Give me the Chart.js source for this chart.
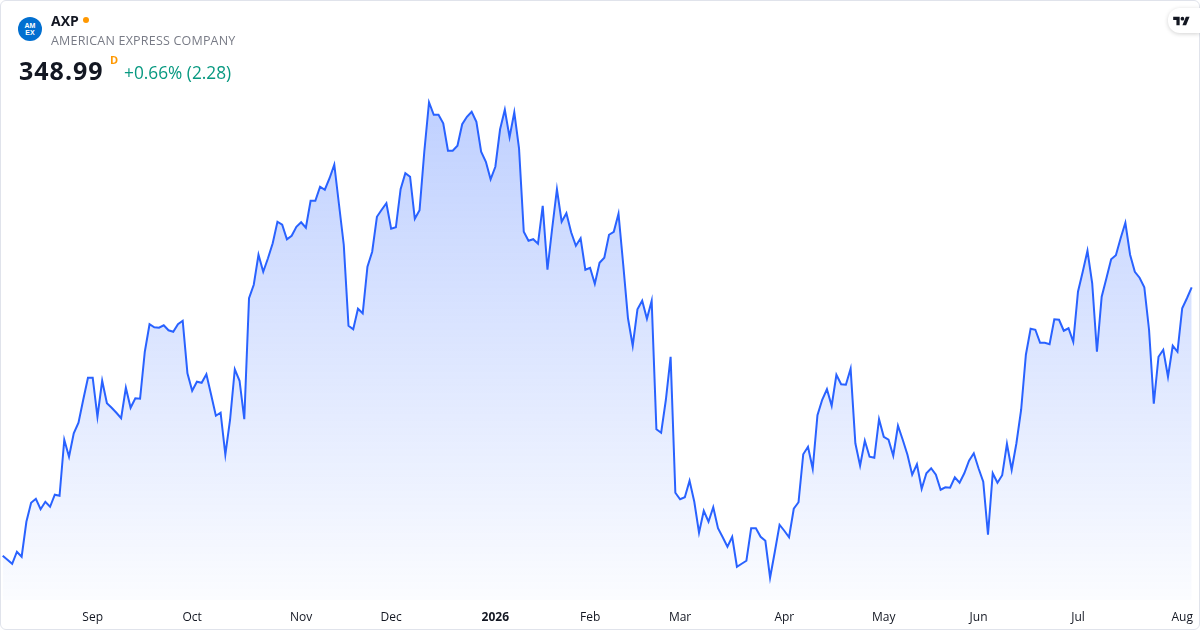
<!DOCTYPE html>
<html>
<head>
<meta charset="utf-8">
<script src="https://cdn.jsdelivr.net/npm/chart.js@4/dist/chart.umd.min.js"></script>
<style>
  html, body { margin: 0; padding: 0; background: #fff; }
  body { width: 1200px; height: 630px; position: relative; overflow: hidden; font-family: 'Open Sans', 'Noto Sans', sans-serif; }
  .card { position: absolute; left: 0; top: 0; width: 1198px; height: 628px; border: 1px solid #e0e3eb; border-radius: 6px; }
  #wrap { position: absolute; left: 0; top: 0; width: 1194px; height: 630px; }
  .logo { position: absolute; left: 18px; top: 17px; width: 24px; height: 24px; border-radius: 50%; background: #016fd0; color: #fff;
          font: bold 7px/7px 'Liberation Sans', sans-serif; text-align: center; }
  .logo span { display: block; }
  .sym { position: absolute; left: 51px; top: 11px; font-size: 14px; font-weight: 700; color: #131722; }
  .dot { position: absolute; left: 83px; top: 17px; width: 6px; height: 6px; border-radius: 50%; background: #ff9800; }
  .name { position: absolute; left: 51px; top: 32px; font-size: 12.5px; color: #787b86; letter-spacing: 0.2px; }
  .price { position: absolute; left: 19px; top: 53px; font-size: 25px; font-weight: 700; color: #131722; letter-spacing: 1px; }
  .d { position: absolute; left: 110px; top: 52px; font-size: 11px; font-weight: 700; color: #ff9800; }
  .chg { position: absolute; left: 124px; top: 61px; font-size: 17.3px; color: #089981; }
  .tv { position: absolute; right: 0; top: 8px; width: 32px; height: 25px; background: #fff; border-radius: 12px 0 0 12px;
        box-shadow: 0 1px 4px rgba(0,0,0,0.18); }
  .tv svg { position: absolute; left: 5px; top: 7px; }
</style>
</head>
<body>
<div class="card"></div>
<div id="wrap"><canvas id="chart" width="1194" height="630"></canvas></div>
<div class="logo"><span style="margin-top:5px">AM</span><span>EX</span></div>
<div class="sym">AXP</div>
<div class="dot"></div>
<div class="name">AMERICAN EXPRESS COMPANY</div>
<div class="price">348.99</div>
<div class="d">D</div>
<div class="chg">+0.66% (2.28)</div>
<div class="tv"><svg width="17" height="12" viewBox="0 0 36 26"><path fill="#131722" d="M14 22H7V11H0V4h14v18zM28 22h-8l7.5-18h8L28 22z"/><circle fill="#131722" cx="20" cy="8" r="4"/></svg></div>
<script>
// daily closes, Aug 2025 -> Aug 2026
const closes = [
  295.3, 294.5, 293.7, 296.1, 295.1, 302.1, 305.9, 306.7, 304.6, 306.1,
  305.1, 307.5, 307.3, 318.5, 315.1, 319.8, 321.9, 326.5, 330.9, 330.9,
  323.1, 330.3, 325.8, 324.9, 323.9, 322.8, 328.9, 324.9, 326.8, 326.7,
  336.1, 341.6, 341.0, 340.9, 341.4, 340.4, 340.1, 341.6, 342.3, 331.8,
  328.3, 330.1, 329.9, 331.6, 327.5, 323.3, 323.9, 315.5, 322.5, 332.6,
  330.3, 322.6, 346.8, 349.5, 355.5, 352.1, 354.8, 357.8, 362.1, 361.5,
  358.6, 359.3, 361.1, 362.0, 360.9, 366.3, 366.3, 369.1, 368.5, 370.8,
  373.5, 365.5, 357.5, 341.3, 340.6, 344.7, 343.8, 353.1, 356.1, 363.1,
  364.5, 365.8, 360.7, 361.0, 368.6, 371.8, 371.1, 362.7, 364.4, 376.1,
  386.0, 383.5, 383.5, 381.8, 376.3, 376.3, 377.3, 381.6, 383.1, 384.1,
  382.1, 376.1, 374.1, 370.6, 373.1, 380.6, 384.5, 379.0, 384.0, 376.8,
  360.1, 358.3, 358.6, 357.7, 365.3, 352.5, 360.8, 368.6, 362.1, 363.8,
  360.0, 357.3, 358.8, 352.5, 352.9, 349.7, 353.9, 354.9, 359.5, 360.1,
  363.7, 353.5, 342.8, 337.3, 344.6, 346.3, 342.7, 346.3, 320.6, 319.9,
  326.5, 335.1, 307.9, 306.6, 307.0, 310.3, 306.1, 299.9, 304.3, 302.1,
  305.0, 300.8, 299.0, 297.1, 299.1, 293.1, 293.7, 294.3, 300.8, 300.8,
  299.1, 298.3, 290.9, 296.1, 301.5, 300.3, 299.0, 304.7, 306.0, 315.6,
  317.1, 312.7, 323.4, 326.5, 328.6, 325.3, 331.5, 329.6, 329.5, 332.7,
  317.8, 313.3, 318.3, 315.1, 314.9, 322.6, 319.1, 318.5, 315.3, 321.3,
  318.5, 315.5, 311.5, 313.6, 308.7, 311.8, 312.8, 311.5, 308.5, 309.0,
  308.9, 311.0, 309.9, 311.8, 314.3, 315.8, 312.8, 310.1, 299.5, 311.8,
  309.9, 311.4, 317.7, 312.5, 317.8, 324.5, 335.5, 340.7, 340.5, 337.9,
  337.9, 337.6, 342.6, 342.5, 340.3, 340.8, 338.1, 348.1, 352.1, 356.3,
  349.8, 336.1, 347.1, 350.8, 354.6, 355.4, 358.8, 361.9, 355.5, 352.1,
  350.9, 349.0, 340.5, 325.7, 335.1, 336.5, 331.1, 337.3, 336.1, 344.8,
  346.8, 348.99
];
// bar index of the first session of each month, and its label
const tickIndex = [19, 40, 63, 82, 104, 124, 143, 165, 186, 206, 227, 249];
const tickLabels = ['Sep', 'Oct', 'Nov', 'Dec', '2026', 'Feb', 'Mar', 'Apr', 'May', 'Jun', 'Jul', 'Aug'];

const ctx = document.getElementById('chart').getContext('2d');

const chart = new Chart(ctx, {
  type: 'line',
  data: {
    datasets: [{
      data: closes.map((v, i) => ({ x: i, y: v })),
      borderColor: '#2962ff',
      borderWidth: 2,
      pointRadius: 0,
      tension: 0,
      fill: 'start',
      backgroundColor: (c) => {
        const area = c.chart.chartArea;
        if (!area) return 'rgba(41,98,255,0.1)';
        const g = c.chart.ctx.createLinearGradient(0, area.top, 0, area.bottom);
        g.addColorStop(0, 'rgba(41,98,255,0.30)');
        g.addColorStop(1, 'rgba(41,98,255,0.02)');
        return g;
      }
    }]
  },
  options: {
    responsive: false,
    animation: false,
    devicePixelRatio: 1,
    layout: { autoPadding: false, padding: { top: 95, bottom: 0, left: 0, right: 0 } },
    plugins: { legend: { display: false }, tooltip: { enabled: false } },
    scales: {
      x: {
        type: 'linear',
        min: -0.57,
        max: 251.49,
        grid: { display: false, drawTicks: false },
        border: { display: false },
        afterBuildTicks: (axis) => { axis.ticks = tickIndex.map(v => ({ value: v })); },
        afterFit: (axis) => {
          axis.height = 30;
          axis.paddingLeft = 0;
          axis.paddingRight = 0;
        },
        ticks: {
          autoSkip: false,
          maxRotation: 0,
          padding: 10,
          color: '#131722',
          font: (c) => ({
            family: "'Open Sans', sans-serif",
            size: 12,
            weight: c.tick && c.tick.value === 104 ? 'bold' : 'normal'
          }),
          callback: (v) => tickLabels[tickIndex.indexOf(v)]
        }
      },
      y: {
        display: false,
        min: 286.45,
        max: 387.45
      }
    }
  }
});
</script>
</body>
</html>
